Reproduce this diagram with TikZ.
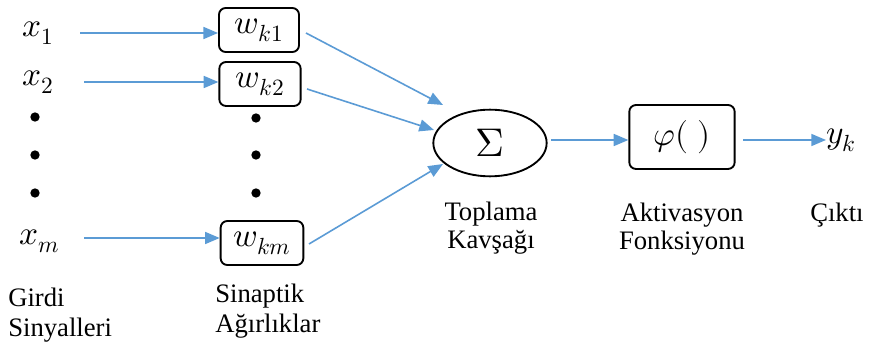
\documentclass[tikz,border=0pt]{standalone}
\usepackage{fontspec}
\usepackage{unicode-math}
\setmainfont{Liberation Serif}
\setmathfont{Latin Modern Math}
\usetikzlibrary{arrows.meta,shapes.geometric}
\definecolor{arrblue}{RGB}{91,155,213}
\tikzset{
  conn/.style={draw=arrblue, line width=1.2pt, -{Triangle[length=11pt,width=9pt]}},
  wbox/.style={draw=black, line width=1.4pt, rounded corners=5pt, minimum width=60pt, minimum height=33pt, inner sep=0pt},
  dot/.style={circle, fill=black, inner sep=0pt, minimum size=7pt},
  lbl/.style={font=\fontsize{20}{20.5}\selectfont, align=center, inner sep=0pt},
  lbll/.style={font=\fontsize{20}{22}\selectfont, align=left, inner sep=0pt, anchor=north west},
  mth/.style={font=\fontsize{25}{26}\selectfont, inner sep=0pt}
}
\begin{document}
\begin{tikzpicture}[x=0.75pt,y=-0.75pt]
\useasboundingbox (0,0) rectangle (869,349);
% inputs
\node[mth] (x1) at (38,33) {$x_1$};
\node[mth] (x2) at (38,82) {$x_2$};
\node[mth] (xm) at (40,241) {$x_m$};
\node[dot] (d1) at (35,117) {};
\node[dot] (d2) at (35,155) {};
\node[dot] (d3) at (35,193) {};
% weights
\node[wbox, mth, minimum width=60pt] (w1) at (259,30) {$w_{k1}$};
\node[wbox, mth, minimum width=61pt] (w2) at (260,84) {$w_{k2}$};
\node[wbox, mth, minimum width=62pt] (wm) at (262,243) {$w_{km}$};
\node[dot] (e1) at (256,118) {};
\node[dot] (e2) at (256,155) {};
\node[dot] (e3) at (256,193) {};
% coordinates for arrow starts
\coordinate (s1) at (80,33);
\coordinate (s2) at (84,82);
\coordinate (sm) at (84,238);
\draw[conn] (s1) -- (w1.west |- s1);
\draw[conn] (s2) -- (w2.west |- s2);
\draw[conn] (sm) -- (wm.west |- sm);
% summation
\node[ellipse, draw=black, line width=1.4pt, minimum width=85pt, minimum height=50pt, inner sep=0pt, font=\fontsize{30}{30}\selectfont] (sum) at (490,143) {$\Sigma$};
\coordinate (t1) at (443,105);
\coordinate (t2) at (434,130);
\coordinate (t3) at (443,164);
\coordinate (o1) at (306,33);
\coordinate (o2) at (307,89);
\coordinate (om) at (309,244);
\draw[conn] (o1) -- (t1);
\draw[conn] (o2) -- (t2);
\draw[conn] (om) -- (t3);
% activation
\node[wbox, mth, minimum width=79pt, minimum height=48pt] (phi) at (682,137) {$\varphi(\;)$};
\coordinate (a0) at (551,140);
\draw[conn] (a0) -- (phi.west |- a0);
\node[mth, anchor=west] (yk) at (826,140) {$y_k$};
\coordinate (a1) at (743,140);
\draw[conn] (a1) -- (yk.west |- a1);
% labels
\node[lbl] (lsum) at (491,228) {Toplama\\Kavşağı};
\node[lbl] (lact) at (682,229) {Aktivasyon\\Fonksiyonu};
\node[lbl, anchor=west] (lout) at (810,215) {Çıktı};
\node[lbll] (lin) at (8,288) {Girdi\\Sinyalleri};
\node[lbll] (lw) at (215,284) {Sinaptik\\Ağırlıklar};
\end{tikzpicture}
\end{document}
